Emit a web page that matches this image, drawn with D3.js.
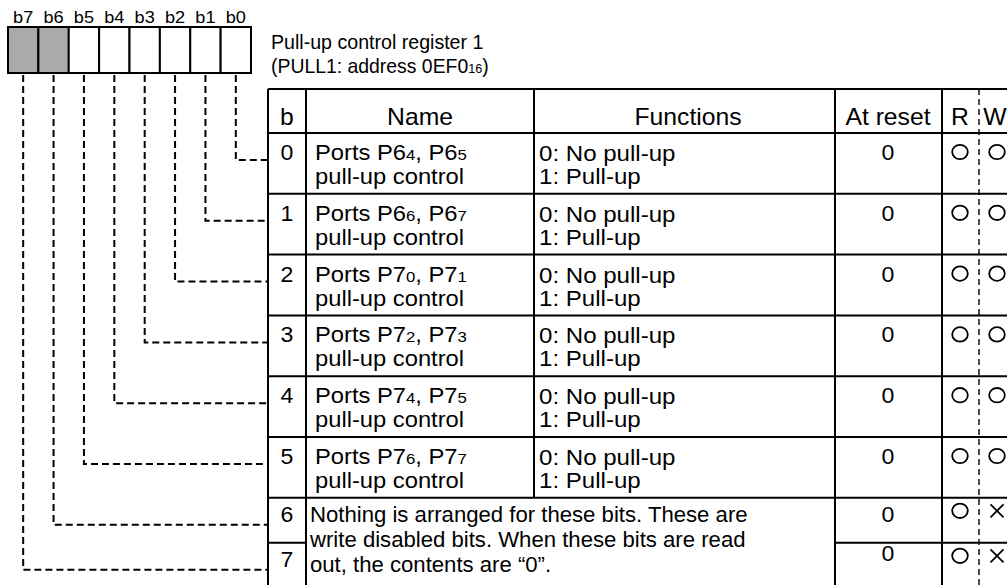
<!DOCTYPE html>
<html>
<head>
<meta charset="utf-8">
<script src="https://cdn.jsdelivr.net/npm/d3@7"></script>
<style>
html,body{margin:0;padding:0;background:#fff;}
svg{display:block;}
text{font-family:"Liberation Sans",Arial,Helvetica,sans-serif;fill:#000;}
</style>
</head>
<body>
<svg id="c" width="1007" height="585"></svg>
<script>
// ---------------- data ----------------
const bitLabels = ["b7","b6","b5","b4","b3","b2","b1","b0"];
const unusedBits = ["b7","b6"];
const titleLine1 = "Pull-up control register 1";
const titleLine2 = ["(PULL1: address 0EF0", "16", ")"];
const headers = ["b","Name","Functions","At reset","R","W"];
const rowBits = ["0","1","2","3","4","5","6","7"];
const namePrefix = ["Ports P6","Ports P6","Ports P7","Ports P7","Ports P7","Ports  P7"];
const nameSubA = ["4","6","0","2","4","6"];
const nameMid = ["P6","P6","P7","P7","P7","P7"];
const nameSubB = ["5","7","1","3","5","7"];
const nameLine2 = "pull-up control";
const functionLines = ["0: No pull-up","1: Pull-up"];
const mergedText = ["Nothing is arranged for these bits. These are",
                    "write disabled bits. When these bits are read",
                    "out, the contents are \u201C0\u201D."];
const atReset = ["0","0","0","0","0","0","0","0"];
const readMark = ["O","O","O","O","O","O","O","O"];
const writeMark = ["O","O","O","O","O","O","X","X"];

// ---------------- layout ----------------
const svg = d3.select("#c");
function txt(g, x, y, s, size, anchor, sx) {
  const t = g.append("text")
    .attr("transform", `translate(${x},${y}) scale(${sx||1},1)`)
    .attr("font-size", size)
    .attr("text-anchor", anchor || "start");
  if (typeof s === "string") t.text(s);
  return t;
}

// register box
const regX = d3.scaleBand().domain(bitLabels).range([8, 251]);
const regTop = 27, regH = 46;
const reg = svg.append("g");
reg.selectAll("rect.cell").data(bitLabels).join("rect")
  .attr("x", d => regX(d)).attr("y", regTop)
  .attr("width", regX.bandwidth()).attr("height", regH)
  .attr("fill", d => unusedBits.includes(d) ? "#aaaaaa" : "#ffffff")
  .attr("stroke", "#000").attr("stroke-width", 2);
bitLabels.forEach(b => txt(reg, regX(b) + regX.bandwidth()/2, 23, b, 16.5, "middle", 1.1));

// title
txt(svg, 271, 49, titleLine1, 20, "start", 0.98);
const t2 = txt(svg, 271, 73, null, 20, "start", 0.97);
t2.append("tspan").text(titleLine2[0]);
t2.append("tspan").attr("font-size", 13).text(titleLine2[1]);
t2.append("tspan").text(titleLine2[2]);

// table geometry
const tableLeft = 268, tableRight = 1016;
const cols = [268, 306, 534, 835, 942, 979, 1016];
const headTop = 89, headBottom = 133;
const rowH = d3.scaleOrdinal().domain(rowBits).range([60.8,60.8,60.8,60.8,60.8,60.8,45,45]);
const rowTop = {};
let acc = headBottom;
rowBits.forEach(b => { rowTop[b] = acc; acc += rowH(b); });
const tableBottom = acc;

const tbl = svg.append("g");
const line = (x1,y1,x2,y2,w,dash) => tbl.append("line")
  .attr("x1",x1).attr("y1",y1).attr("x2",x2).attr("y2",y2)
  .attr("stroke","#000").attr("stroke-width",w||2)
  .attr("stroke-dasharray", dash || null);

// horizontal lines
line(tableLeft, headTop, tableRight, headTop);
line(tableLeft, headBottom, tableRight, headBottom);
rowBits.forEach(b => {
  if (b === "7") {
    line(cols[0], rowTop[b], cols[1], rowTop[b]);
    line(cols[3], rowTop[b], tableRight, rowTop[b]);
  } else {
    line(tableLeft, rowTop[b], tableRight, rowTop[b]);
  }
});
line(tableLeft, tableBottom, tableRight, tableBottom);
// vertical lines
[cols[0], cols[1], cols[3], cols[4], cols[6]].forEach(x => line(x, headTop, x, tableBottom));
line(cols[2], headTop, cols[2], rowTop["6"]);
line(cols[5], headTop, cols[5], tableBottom, 1.4, "6,4");

// headers
const hx = [287, 420, 688, 888, 960, 995];
headers.forEach((h,i) => txt(tbl, hx[i], 125, h, 24, "middle", 1.03));

// rows
rowBits.forEach((b,i) => {
  const top = rowTop[b];
  const short = rowH(b) < 50;
  txt(tbl, 287, top + (short ? 24 : 27), b, 22, "middle", 1.05);
  if (i < 6) {
    const t = txt(tbl, 315, top + 27, null, 22, "start", 1.08);
    t.append("tspan").text(namePrefix[i]);
    t.append("tspan").attr("font-size", 15.5).text(nameSubA[i]);
    t.append("tspan").text(", " + nameMid[i]);
    t.append("tspan").attr("font-size", 15.5).text(nameSubB[i]);
    txt(tbl, 315, top + 51, nameLine2, 22, "start", 1.08);
    txt(tbl, 539, top + 28, functionLines[0], 22, "start", 1.095);
    txt(tbl, 539, top + 51, functionLines[1], 22, "start", 1.095);
  }
  txt(tbl, 888, top + (short ? (b === "7" ? 18 : 24) : 27), atReset[i], 22, "middle", 1.05);
  const cy = top + (short ? 13 : 19);
  [[960, readMark[i]], [997, writeMark[i]]].forEach(([cx, m]) => {
    if (m === "O") {
      tbl.append("ellipse").attr("cx", cx).attr("cy", cy).attr("rx", 7.8).attr("ry", 7.2)
        .attr("fill", "none").attr("stroke", "#000").attr("stroke-width", 1.8);
    } else {
      tbl.append("path").attr("d", `M${cx-6.5},${cy-6.5}L${cx+6.5},${cy+6.5}M${cx+6.5},${cy-6.5}L${cx-6.5},${cy+6.5}`)
        .attr("stroke", "#000").attr("stroke-width", 1.8).attr("fill", "none");
    }
  });
});
mergedText.forEach((s,j) => txt(tbl, 310, rowTop["6"] + 24 + j*25, s, 21.5, "start", 1.03));

// leader lines from register bits to table rows
const lead = svg.append("g");
rowBits.forEach(b => {
  const x = regX("b" + b) + regX.bandwidth()/2;
  const y = rowTop[b] + 27;
  lead.append("path")
    .attr("d", `M${x},${regTop + regH + 2}V${y}H${tableLeft}`)
    .attr("fill", "none").attr("stroke", "#000").attr("stroke-width", 2)
    .attr("stroke-dasharray", "7,4");
});
</script>
</body>
</html>
